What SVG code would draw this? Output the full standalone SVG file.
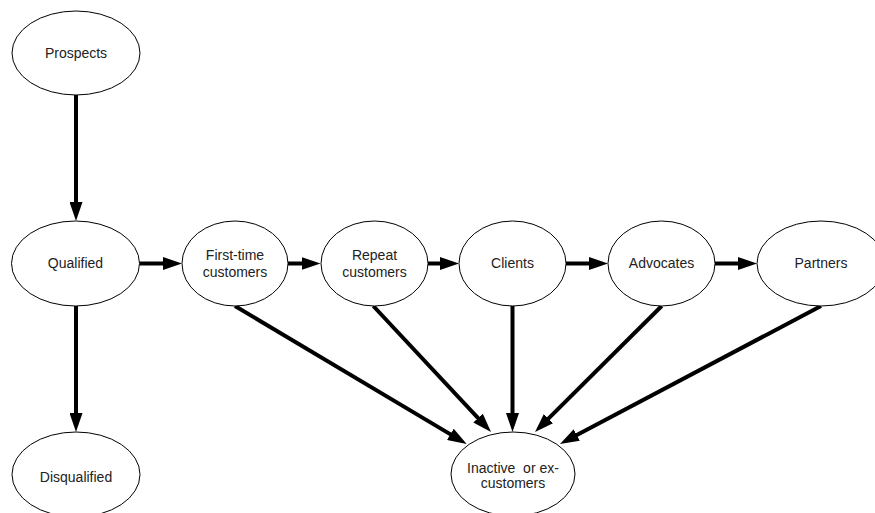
<svg xmlns="http://www.w3.org/2000/svg" width="875" height="513" viewBox="0 0 875 513">
<style>
.node ellipse{fill:#fff;stroke:#000;stroke-width:1}
.node text{font-family:"Liberation Sans",Arial,sans-serif;font-size:14px;fill:#222;text-anchor:middle;white-space:pre}
.edges line{stroke:#000;stroke-width:4;marker-end:url(#ah)}
</style>
<defs>
<marker id="ah" markerUnits="userSpaceOnUse" markerWidth="20" markerHeight="13" refX="9" refY="6.5" orient="auto">
<path d="M0,0 L19,6.5 L0,13 z" fill="#000"/>
</marker>
</defs>
<rect width="875" height="513" fill="#fff"/>
<g id="connectors" class="edges">
<line x1="76" y1="95" x2="76" y2="211"/>
<line x1="76" y1="306" x2="76" y2="422"/>
<line x1="139.5" y1="263.5" x2="172" y2="263.5"/>
<line x1="288" y1="263.5" x2="310.5" y2="263.5"/>
<line x1="428" y1="263.5" x2="449" y2="263.5"/>
<line x1="566" y1="263.5" x2="598" y2="263.5"/>
<line x1="715" y1="263.5" x2="747" y2="263.5"/>
<line x1="235" y1="306" x2="458.1" y2="438.9"/>
<line x1="373.3" y1="306" x2="484.2" y2="424.7"/>
<line x1="512.5" y1="306" x2="512.5" y2="422"/>
<line x1="661.7" y1="306" x2="542.1" y2="424.9"/>
<line x1="821" y1="306" x2="568.8" y2="439.3"/>
</g>
<g id="prospects" class="node"><ellipse cx="76" cy="53" rx="64" ry="42"/><text x="76" y="58">Prospects</text></g>
<g id="qualified" class="node"><ellipse cx="75.5" cy="263.5" rx="64" ry="42.5"/><text x="75.5" y="268">Qualified</text></g>
<g id="first-time" class="node"><ellipse cx="235" cy="263.5" rx="53" ry="42.5"/><text x="235" y="260">First-time</text><text x="235" y="276.5">customers</text></g>
<g id="repeat" class="node"><ellipse cx="374.5" cy="263.5" rx="53.5" ry="42.5"/><text x="374.5" y="260">Repeat</text><text x="374.5" y="276.5">customers</text></g>
<g id="clients" class="node"><ellipse cx="512.5" cy="263.5" rx="53.5" ry="42.5"/><text x="512.5" y="268">Clients</text></g>
<g id="advocates" class="node"><ellipse cx="661.5" cy="263.5" rx="53.5" ry="42.5"/><text x="661.5" y="268">Advocates</text></g>
<g id="partners" class="node"><ellipse cx="821" cy="263.5" rx="64" ry="42.5"/><text x="821" y="268">Partners</text></g>
<g id="disqualified" class="node"><ellipse cx="76" cy="474.5" rx="64" ry="42.5"/><text x="76" y="482">Disqualified</text></g>
<g id="inactive" class="node"><ellipse cx="513" cy="474" rx="62" ry="42"/><text x="513" y="473">Inactive  or ex-</text><text x="513" y="488">customers</text></g>
</svg>
